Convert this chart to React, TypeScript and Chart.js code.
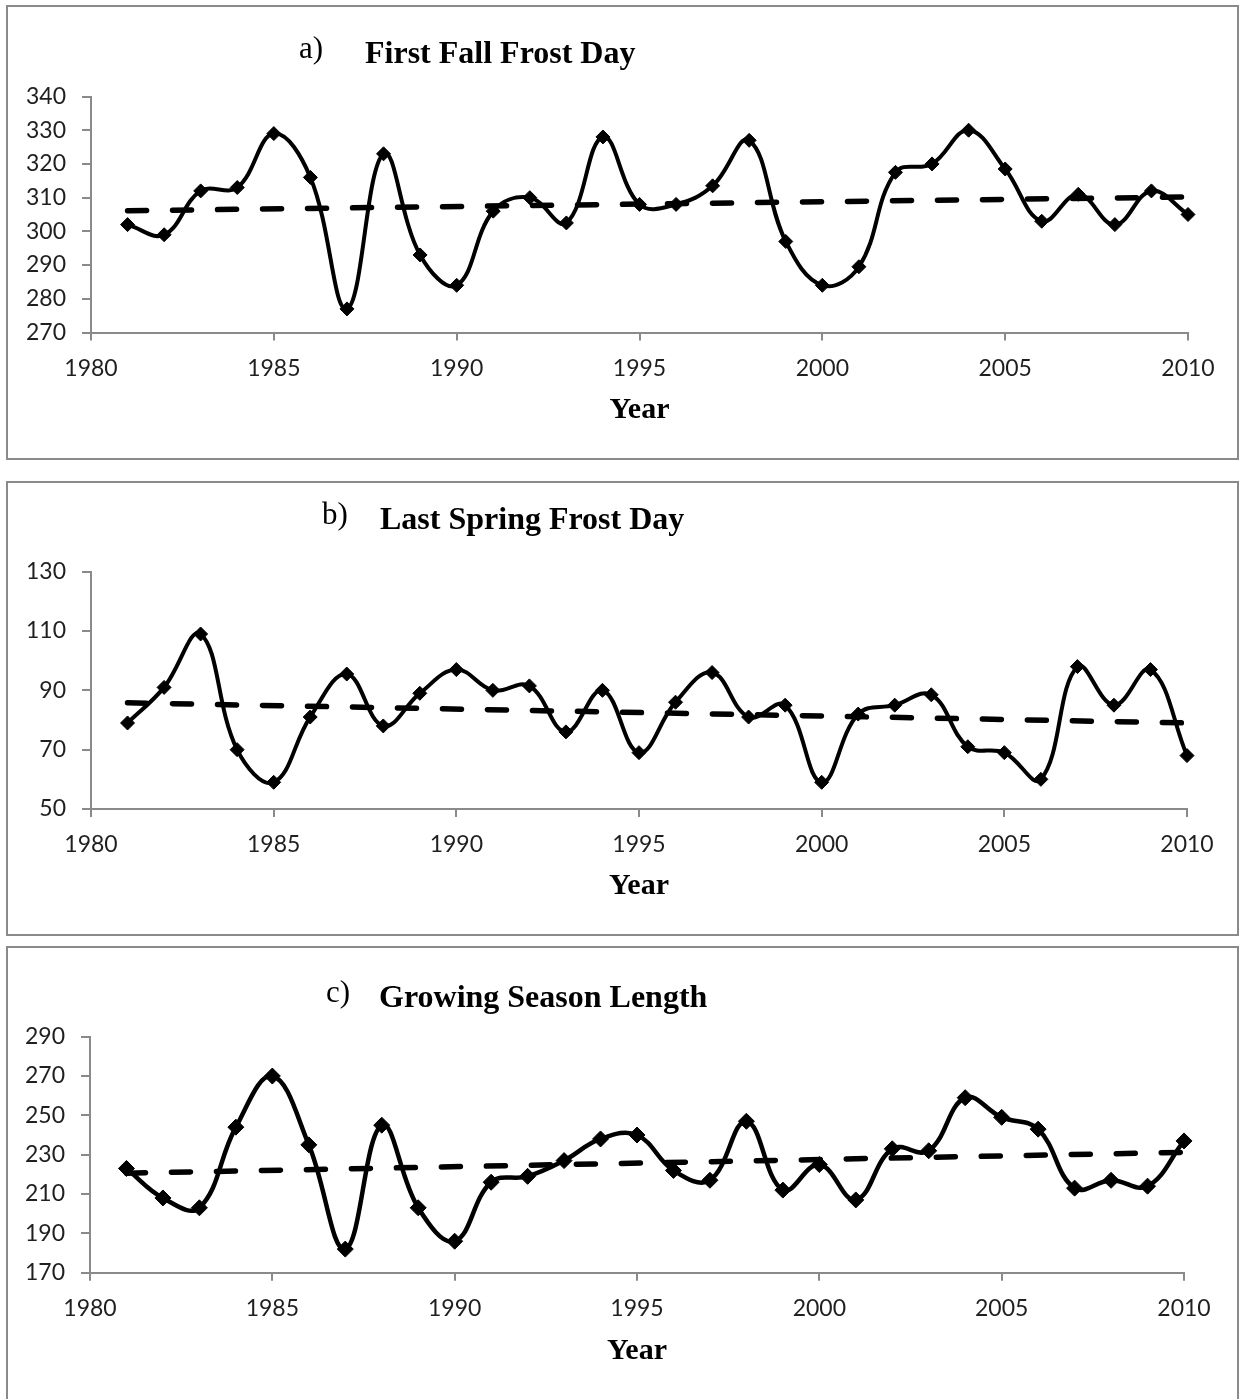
import React, { useEffect, useRef } from "react";
import { Chart, registerables } from "chart.js";

Chart.register(...registerables);

// ---------- data ----------
const years = [
  1981, 1982, 1983, 1984, 1985, 1986, 1987, 1988, 1989, 1990,
  1991, 1992, 1993, 1994, 1995, 1996, 1997, 1998, 1999, 2000,
  2001, 2002, 2003, 2004, 2005, 2006, 2007, 2008, 2009, 2010,
];
const xTickYears = [1980, 1985, 1990, 1995, 2000, 2005, 2010];
const trendYears = [1981, 2010];

const firstFallFrostDay = [
  302, 299, 312, 313, 329, 316, 277, 323, 293, 284,
  306, 310, 302.5, 328, 308, 308, 313.5, 327, 297, 284,
  289.5, 317.5, 320, 330, 318.5, 303, 311, 302, 312, 305,
];
const firstFallTrend = [306.1, 310.2];
const firstFallTicks = [270, 280, 290, 300, 310, 320, 330, 340];

const lastSpringFrostDay = [
  79, 91, 109, 70, 59, 81, 95.5, 78, 89, 97,
  90, 91.5, 76, 90, 69, 86, 96, 81, 85, 59,
  82, 85, 88.5, 71, 69, 60, 98, 85, 97, 68,
];
const lastSpringTrend = [85.8, 79.0];
const lastSpringTicks = [50, 70, 90, 110, 130];

const growingSeasonLength = [
  223, 208, 203, 244, 270, 235, 182, 245, 203, 186,
  216, 219, 227, 238, 240, 222, 217, 247, 212, 225,
  207, 233, 232, 259, 249, 243, 213, 217, 214, 237,
];
const growingSeasonTrend = [220.6, 231.2];
const growingSeasonTicks = [170, 190, 210, 230, 250, 270, 290];

// ---------- layout / style ----------
const CANVAS_W = 1229;
const CANVAS_H = 451;
const AXIS_COLOR = "#8a8a8a";
const TICK_COLOR = "#1f1f1f";
const SERIF = '"Liberation Serif", "Times New Roman", serif';
const SANS = "Lato, 'Open Sans', sans-serif";
const TITLE_SIZE = 32;

type PanelCfg = {
  key: string;
  label: string;
  title: string;
  values: number[];
  trend: number[];
  ticks: number[];
  boxTop: number;
  labelX: number;
  titleX: number;
  titleBaseline: number;
  plotLeft: number;
  plotRight: number;
  plotTop: number;
  plotBottom: number;
  lineWidth: number;
  markerRadius: number;
};

const panels: PanelCfg[] = [
  {
    key: "a",
    label: "a)",
    title: "First Fall Frost Day",
    values: firstFallFrostDay,
    trend: firstFallTrend,
    ticks: firstFallTicks,
    boxTop: 5,
    labelX: 291,
    titleX: 357,
    titleBaseline: 56,
    plotLeft: 83,
    plotRight: 1180,
    plotTop: 89.5,
    plotBottom: 325.5,
    lineWidth: 4,
    markerRadius: 7,
  },
  {
    key: "b",
    label: "b)",
    title: "Last Spring Frost Day",
    values: lastSpringFrostDay,
    trend: lastSpringTrend,
    ticks: lastSpringTicks,
    boxTop: 481,
    labelX: 314,
    titleX: 372,
    titleBaseline: 46,
    plotLeft: 83,
    plotRight: 1179,
    plotTop: 88.7,
    plotBottom: 326,
    lineWidth: 4,
    markerRadius: 7,
  },
  {
    key: "c",
    label: "c)",
    title: "Growing Season Length",
    values: growingSeasonLength,
    trend: growingSeasonTrend,
    ticks: growingSeasonTicks,
    boxTop: 946,
    labelX: 318,
    titleX: 371,
    titleBaseline: 59,
    plotLeft: 82,
    plotRight: 1176,
    plotTop: 88.7,
    plotBottom: 324.7,
    lineWidth: 4.5,
    markerRadius: 8,
  },
];

function Panel({ cfg }: { cfg: PanelCfg }) {
  const ref = useRef<HTMLCanvasElement | null>(null);

  useEffect(() => {
    const canvas = ref.current;
    if (!canvas) return;
    const tickFont = { family: SANS, size: 23 };
    const chart = new Chart(canvas, {
      type: "line",
      data: {
        datasets: [
          {
            label: cfg.title,
            data: years.map((x, i) => ({ x, y: cfg.values[i] })),
            borderColor: "#000",
            backgroundColor: "#000",
            borderWidth: cfg.lineWidth,
            tension: 0.4,
            pointStyle: "rectRot",
            pointRadius: cfg.markerRadius,
            pointHoverRadius: cfg.markerRadius,
            pointBackgroundColor: "#000",
            pointBorderColor: "#000",
            pointBorderWidth: 1,
            clip: false,
          } as any,
          {
            label: "Linear trend",
            data: trendYears.map((x, i) => ({ x, y: cfg.trend[i] })),
            borderColor: "#000",
            borderWidth: 5.5,
            borderDash: [19, 26],
            borderCapStyle: "round",
            pointRadius: 0,
            tension: 0,
            clip: false,
          } as any,
        ],
      },
      options: {
        responsive: false,
        animation: false,
        devicePixelRatio: 1,
        events: [],
        layout: {
          padding: {
            left: 0,
            top: cfg.plotTop,
            right: CANVAS_W - cfg.plotRight,
            bottom: 0,
          },
        },
        plugins: {
          legend: { display: false },
          title: { display: false },
          tooltip: { enabled: false },
        },
        scales: {
          x: {
            type: "linear",
            min: xTickYears[0],
            max: xTickYears[xTickYears.length - 1],
            afterBuildTicks: (s: any) => {
              s.ticks = xTickYears.map((v) => ({ value: v }));
            },
            afterFit: (s: any) => {
              s.height = CANVAS_H - cfg.plotBottom;
            },
            ticks: {
              callback: (v: any) => String(v),
              font: tickFont,
              color: TICK_COLOR,
              padding: 14,
              autoSkip: false,
              maxRotation: 0,
            },
            grid: {
              display: true,
              drawOnChartArea: false,
              drawTicks: true,
              tickLength: 8,
              color: AXIS_COLOR,
              lineWidth: 2,
            },
            border: { display: true, color: AXIS_COLOR, width: 2 },
            title: {
              display: true,
              text: "Year",
              color: "#000",
              font: { family: SERIF, size: 30, weight: "bold" },
              padding: { top: 0, bottom: 29.5 },
            },
          },
          y: {
            type: "linear",
            min: cfg.ticks[0],
            max: cfg.ticks[cfg.ticks.length - 1],
            afterBuildTicks: (s: any) => {
              s.ticks = cfg.ticks.map((v) => ({ value: v }));
            },
            afterFit: (s: any) => {
              s.width = cfg.plotLeft;
            },
            ticks: {
              callback: (v: any) => String(v),
              font: tickFont,
              color: TICK_COLOR,
              padding: 16,
            },
            grid: {
              display: true,
              drawOnChartArea: false,
              drawTicks: true,
              tickLength: 9,
              color: AXIS_COLOR,
              lineWidth: 2,
            },
            border: { display: true, color: AXIS_COLOR, width: 2 },
          },
        },
      } as any,
    });
    return () => chart.destroy();
  }, [cfg]);

  const ascent = Math.round(TITLE_SIZE * 0.838);
  const textBase: React.CSSProperties = {
    position: "absolute",
    fontFamily: SERIF,
    fontSize: TITLE_SIZE,
    lineHeight: `${TITLE_SIZE}px`,
    whiteSpace: "nowrap",
    color: "#000",
  };

  return (
    <div
      style={{
        position: "absolute",
        left: 6,
        top: cfg.boxTop,
        width: 1233,
        height: 455,
        border: `2px solid ${AXIS_COLOR}`,
        boxSizing: "border-box",
        background: "#fff",
      }}
    >
      <canvas
        ref={ref}
        width={CANVAS_W}
        height={CANVAS_H}
        style={{ position: "absolute", left: 0, top: 0, width: CANVAS_W, height: CANVAS_H }}
      />
      <div style={{ ...textBase, fontSize: 31, left: cfg.labelX, top: cfg.titleBaseline - 4 - ascent }}>
        {cfg.label}
      </div>
      <div
        style={{
          ...textBase,
          left: cfg.titleX,
          top: cfg.titleBaseline - ascent,
          fontWeight: "bold",
        }}
      >
        {cfg.title}
      </div>
    </div>
  );
}

export default function App() {
  return (
    <div
      style={{
        position: "fixed",
        left: 0,
        top: 0,
        width: 1241,
        height: 1399,
        overflow: "hidden",
        background: "#fff",
      }}
    >
      {panels.map((p) => (
        <Panel key={p.key} cfg={p} />
      ))}
    </div>
  );
}
